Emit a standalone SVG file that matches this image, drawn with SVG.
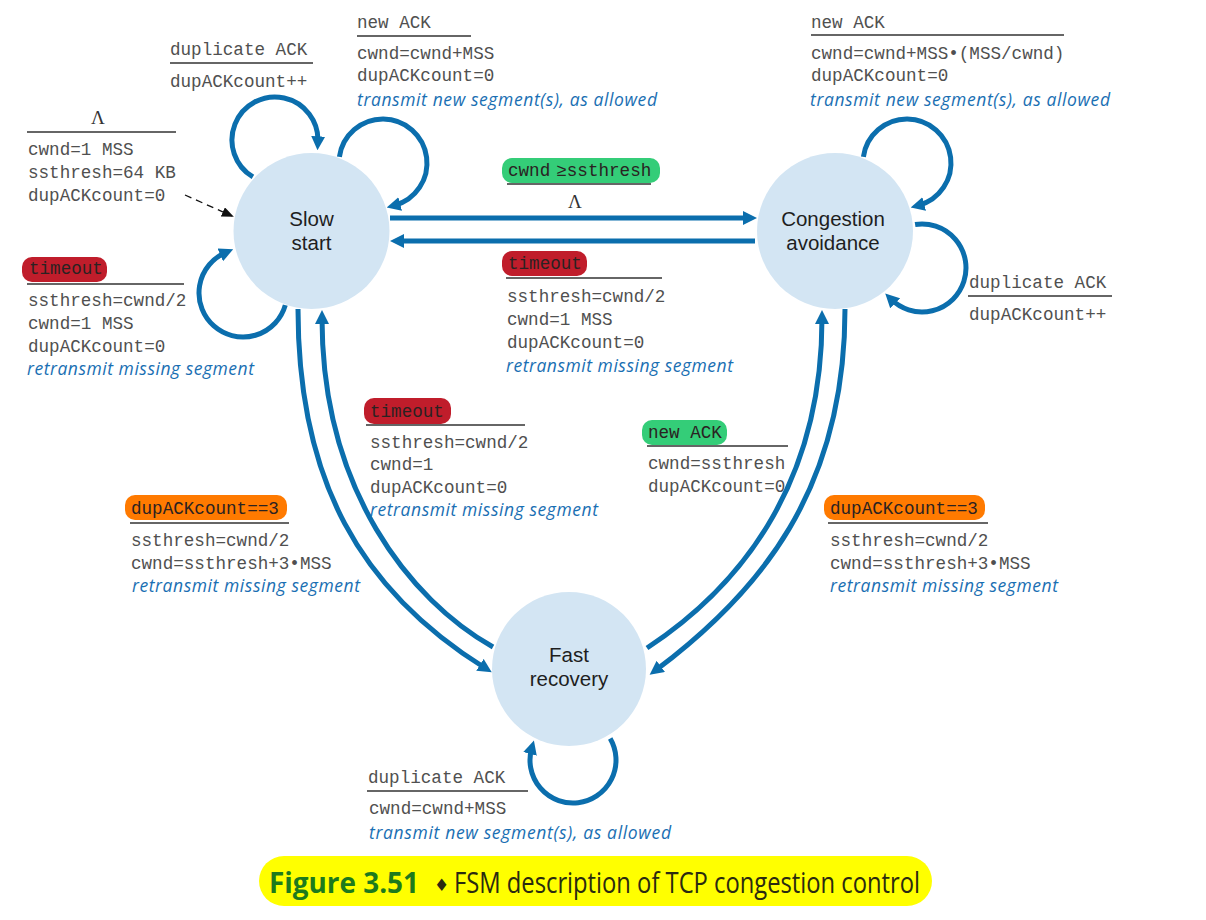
<svg xmlns="http://www.w3.org/2000/svg" width="1206" height="920" viewBox="0 0 1206 920">
<style>
.m{font-family:"Liberation Mono","Courier New",monospace;font-size:17.6px;fill:#505050}
.p{font-family:"Liberation Mono","Courier New",monospace;font-size:17.6px;fill:#2a2222}
.i{font-family:"Open Sans","Noto Sans",sans-serif;font-style:italic;font-size:17.5px;fill:#1a6fb3}
.n{font-family:"Liberation Sans",Arial,sans-serif;font-size:20.5px;fill:#1e1e1e;text-anchor:middle}
.lam{font-family:"Liberation Serif",serif;font-size:19px;fill:#333;text-anchor:middle}
.ul{stroke:#333;stroke-width:1.6}
.st{fill:#d3e5f3}
.c{fill:none;stroke:#0b6ead;stroke-width:5;marker-end:url(#ah)}
.red{fill:#c01d2b}.grn{fill:#34cd78}.org{fill:#ff7a00}
</style>
<defs>
<marker id="ah" viewBox="0 0 14 14" refX="6" refY="7" markerWidth="14" markerHeight="14" markerUnits="userSpaceOnUse" orient="auto"><path d="M0,0 L14,7 L0,14 z" fill="#0b6ead"/></marker>
<marker id="bh" viewBox="0 0 12 10" refX="10" refY="5" markerWidth="12" markerHeight="10" markerUnits="userSpaceOnUse" orient="auto"><path d="M0,0 L12,5 L0,10 z" fill="#111"/></marker>
</defs>
<rect width="1206" height="920" fill="#fff"/>

<g id="connectors">
<path class="c" d="M252.9,176.9 A43,43 0 1,1 317.9,142.3"/>
<path class="c" d="M339.4,156.9 A44,44 0 1,1 394.4,205.5"/>
<path class="c" d="M285.3,305.1 A44,44 0 1,1 225.8,252.5"/>
<path class="c" d="M863.4,156.9 A44,44 0 1,1 918.4,205.5"/>
<path class="c" d="M915.1,224.5 A44,44 0 1,1 890.9,299.1"/>
<path class="c" d="M610.2,738.5 A43,43 0 1,1 531.7,748.1"/>
<path class="c" d="M390,218 L749,218"/>
<path class="c" d="M755,241 L398,241"/>
<path class="c" d="M298,309 C298,480 360,590 485,668"/>
<path class="c" d="M493,647 C410,600 322,490 322,318"/>
<path class="c" d="M845,309 C845,490 760,592 656,670"/>
<path class="c" d="M647,648 C735,590 822,490 822,318"/>
<path d="M185,195 L232,216" fill="none" stroke="#111" stroke-width="1.3" stroke-dasharray="7,5" marker-end="url(#bh)"/>
</g>

<g id="slow-start">
<circle class="st" cx="311.5" cy="231" r="78"/>
<text class="n"><tspan x="311.5" y="226">Slow</tspan><tspan x="311.5" dy="24">start</tspan></text>
</g>
<g id="congestion-avoidance">
<circle class="st" cx="835" cy="231" r="78"/>
<text class="n"><tspan x="833" y="226">Congestion</tspan><tspan x="833" dy="24">avoidance</tspan></text>
</g>
<g id="fast-recovery">
<circle class="st" cx="569" cy="669" r="77"/>
<text class="n"><tspan x="569" y="662">Fast</tspan><tspan x="569" dy="24">recovery</tspan></text>
</g>

<g id="labels">
<!-- init -->
<text class="lam" x="98" y="124">Λ</text>
<line class="ul" x1="27" y1="132" x2="176" y2="132"/>
<text class="m" x="28" y="155">cwnd=1 MSS</text>
<text class="m" x="28" y="178">ssthresh=64 KB</text>
<text class="m" x="28" y="201">dupACKcount=0</text>

<!-- SS dup ACK -->
<text class="m" x="170" y="55">duplicate ACK</text>
<line class="ul" x1="170" y1="63" x2="313" y2="63"/>
<text class="m" x="170" y="87">dupACKcount++</text>

<!-- SS new ACK -->
<text class="m" x="357" y="28">new ACK</text>
<line class="ul" x1="357" y1="36" x2="471" y2="36"/>
<text class="m" x="357" y="59">cwnd=cwnd+MSS</text>
<text class="m" x="357" y="81">dupACKcount=0</text>
<text class="i" x="357" y="106" textLength="300">transmit new segment(s), as allowed</text>

<!-- SS timeout -->
<rect class="red" x="22" y="257" width="85" height="25" rx="10"/>
<text class="p" x="29" y="274">timeout</text>
<line class="ul" x1="27" y1="284" x2="184" y2="284"/>
<text class="m" x="28" y="306">ssthresh=cwnd/2</text>
<text class="m" x="28" y="329">cwnd=1 MSS</text>
<text class="m" x="28" y="352">dupACKcount=0</text>
<text class="i" x="27" y="375" textLength="227">retransmit missing segment</text>

<!-- SS to CA -->
<rect class="grn" x="502" y="158" width="158" height="25" rx="10"/>
<text class="p" x="508" y="176">cwnd<tspan dx="6">≥</tspan>ssthresh</text>
<line class="ul" x1="507" y1="184" x2="651" y2="184"/>
<text class="lam" x="575" y="208">Λ</text>

<!-- CA timeout -->
<rect class="red" x="502" y="251" width="85" height="25" rx="10"/>
<text class="p" x="508" y="269">timeout</text>
<line class="ul" x1="506" y1="278" x2="662" y2="278"/>
<text class="m" x="507" y="302">ssthresh=cwnd/2</text>
<text class="m" x="507" y="325">cwnd=1 MSS</text>
<text class="m" x="507" y="348">dupACKcount=0</text>
<text class="i" x="506" y="372" textLength="227">retransmit missing segment</text>

<!-- CA new ACK -->
<text class="m" x="811" y="28">new ACK</text>
<line class="ul" x1="811" y1="35" x2="1064" y2="35"/>
<text class="m" x="811" y="59">cwnd=cwnd+MSS•(MSS/cwnd)</text>
<text class="m" x="811" y="81">dupACKcount=0</text>
<text class="i" x="810" y="106" textLength="300">transmit new segment(s), as allowed</text>

<!-- CA dup ACK -->
<text class="m" x="969" y="288">duplicate ACK</text>
<line class="ul" x1="968" y1="296" x2="1112" y2="296"/>
<text class="m" x="969" y="320">dupACKcount++</text>

<!-- FR timeout -->
<rect class="red" x="364" y="398" width="87" height="26" rx="10"/>
<text class="p" x="370" y="417">timeout</text>
<line class="ul" x1="366" y1="425" x2="525" y2="425"/>
<text class="m" x="370" y="448">ssthresh=cwnd/2</text>
<text class="m" x="370" y="470">cwnd=1</text>
<text class="m" x="370" y="493">dupACKcount=0</text>
<text class="i" x="370" y="516" textLength="228">retransmit missing segment</text>

<!-- FR new ACK -->
<rect class="grn" x="642" y="420" width="85" height="25" rx="10"/>
<text class="p" x="648" y="438">new ACK</text>
<line class="ul" x1="647" y1="446" x2="788" y2="446"/>
<text class="m" x="648" y="469">cwnd=ssthresh</text>
<text class="m" x="648" y="492">dupACKcount=0</text>

<!-- SS dup==3 -->
<rect class="org" x="125" y="495" width="162" height="25" rx="10"/>
<text class="p" x="131" y="514">dupACKcount==3</text>
<line class="ul" x1="130" y1="523" x2="289" y2="523"/>
<text class="m" x="131" y="546">ssthresh=cwnd/2</text>
<text class="m" x="131" y="569">cwnd=ssthresh+3•MSS</text>
<text class="i" x="132" y="592" textLength="228">retransmit missing segment</text>

<!-- CA dup==3 -->
<rect class="org" x="824" y="495" width="161" height="25" rx="10"/>
<text class="p" x="830" y="514">dupACKcount==3</text>
<line class="ul" x1="828" y1="523" x2="988" y2="523"/>
<text class="m" x="830" y="546">ssthresh=cwnd/2</text>
<text class="m" x="830" y="569">cwnd=ssthresh+3•MSS</text>
<text class="i" x="830" y="592" textLength="228">retransmit missing segment</text>

<!-- FR dup ACK -->
<text class="m" x="368" y="783">duplicate ACK</text>
<line class="ul" x1="367" y1="791" x2="528" y2="791"/>
<text class="m" x="369" y="814">cwnd=cwnd+MSS</text>
<text class="i" x="369" y="839" textLength="302">transmit new segment(s), as allowed</text>
</g>

<g id="caption">
<rect x="259" y="856" width="673" height="50" rx="25" fill="#ffff00"/>
<text x="269" y="893" font-family="'Open Sans','Noto Sans',sans-serif" font-weight="bold" font-size="29" fill="#1d7a1d" textLength="150" lengthAdjust="spacingAndGlyphs">Figure 3.51</text>
<text x="434" y="891" font-family="'DejaVu Sans',sans-serif" font-size="17" fill="#2a2a10">♦</text>
<text x="454" y="893" font-family="'Open Sans','Noto Sans',sans-serif" font-size="29" fill="#2a2a10" textLength="466" lengthAdjust="spacingAndGlyphs">FSM description of TCP congestion control</text>
</g>
</svg>
